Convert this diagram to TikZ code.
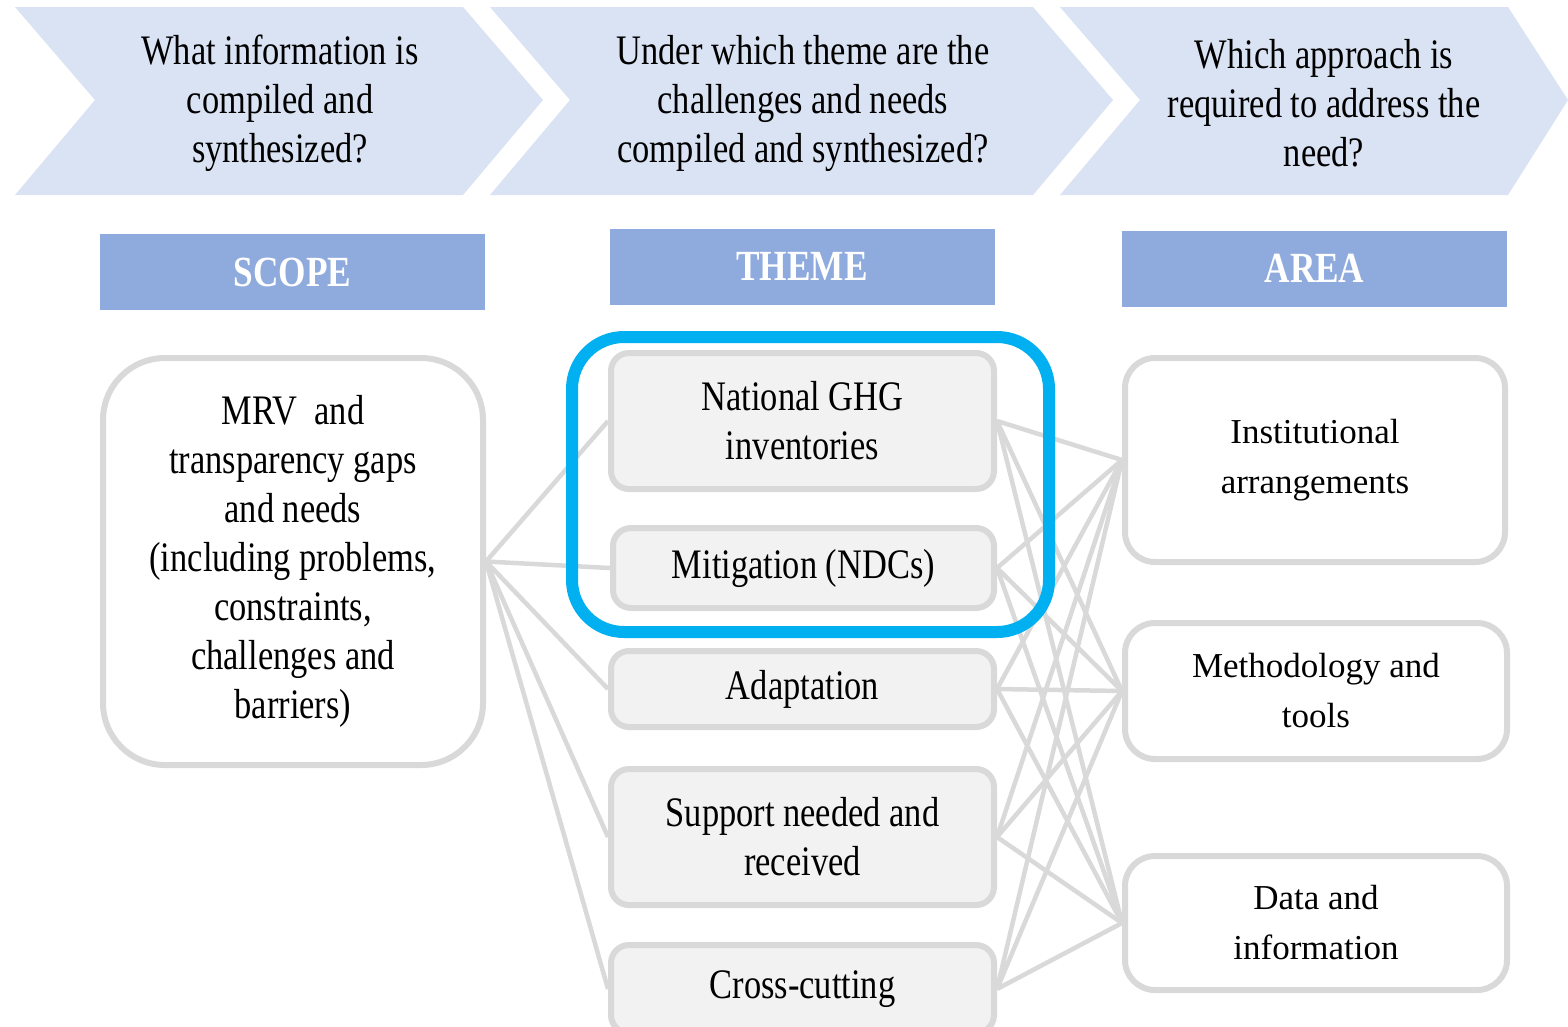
\documentclass[tikz,border=0pt]{standalone}
\usepackage{fontspec}
\setmainfont{Liberation Serif}
\newfontfamily\condfont[FakeStretch=0.82]{Liberation Serif}
\definecolor{chevfill}{HTML}{DAE3F3}
\definecolor{hdrfill}{HTML}{8FAADC}
\definecolor{boxgray}{HTML}{D9D9D9}
\definecolor{themefill}{HTML}{F2F2F2}
\definecolor{hlblue}{HTML}{00B0F0}
\begin{document}
\begin{tikzpicture}[x=1pt,y=-1pt,
  chev/.style={fill=chevfill,draw=none},
  qtext/.style={font=\condfont\fontsize{42}{49}\selectfont,align=center,text=black,inner sep=0pt},
  hdr/.style={fill=hdrfill,draw=none,minimum width=385pt,minimum height=76pt,inner sep=0pt,
    font=\condfont\bfseries\fontsize{43}{49}\selectfont,text=white},
  scopebox/.style={draw=boxgray,line width=6pt,fill=white,rounded corners=62pt,
    minimum width=380pt,minimum height=407pt,inner sep=0pt,align=center,
    font=\condfont\fontsize{42}{49}\selectfont},
  themebox/.style={draw=boxgray,line width=6pt,fill=themefill,rounded corners=18pt,
    minimum width=383pt,inner sep=0pt,align=center,
    font=\condfont\fontsize{42}{49}\selectfont},
  areabox/.style={draw=boxgray,line width=6pt,fill=white,rounded corners=30pt,
    minimum width=382pt,inner sep=0pt,align=center,
    font=\fontsize{35}{50}\selectfont},
  link/.style={draw=boxgray,line width=4.5pt},
  hlbox/.style={draw=hlblue,line width=12pt,rounded corners=52pt,fill=none,
    minimum width=477pt,minimum height=295pt,inner sep=0pt}
]
\clip (0,0) rectangle (1568,1026);
\fill[white] (0,0) rectangle (1568,1026);

% chevrons
\fill[chev] (15,7) -- (463,7) -- (543,100) -- (463,195) -- (15,195) -- (95,100) -- cycle;
\fill[chev] (490,7) -- (1033,7) -- (1113,100) -- (1033,195) -- (490,195) -- (570,100) -- cycle;
\fill[chev] (1060,7) -- (1508,7) -- (1568,100) -- (1508,195) -- (1060,195) -- (1140,100) -- cycle;
\node[qtext] (q1) at (280,103) {What information is\\compiled and\\synthesized?};
\node[qtext] (q2) at (803,103) {Under which theme are the\\challenges and needs\\compiled and synthesized?};
\node[qtext] (q3) at (1324,103) {Which approach is\\required to address the\\need?};

% headers
\node[hdr] (hscope) at (292.5,272) {SCOPE};
\node[hdr] (htheme) at (802,266.5) {THEME};
\node[hdr] (harea) at (1314.5,268.5) {AREA};

% scope
\node[scopebox] (scope) at (293,561.5) {MRV\ \ and\\transparency gaps\\and needs\\(including problems,\\constraints,\\challenges and\\barriers)};

% themes
\node[themebox,minimum height=136pt] (nghg) at (802.5,421) {National GHG\\inventories};
\node[themebox,minimum height=80pt,minimum width=381pt] (mitig) at (803.5,568) {Mitigation (NDCs)};
\node[themebox,minimum height=76pt] (adapt) at (802.5,689) {Adaptation};
\node[themebox,minimum height=136pt] (supp) at (802.5,837) {Support needed and\\received};
\node[themebox,minimum height=88pt] (cross) at (802.5,989) {Cross-cutting};

% areas
\node[areabox,minimum height=204pt,minimum width=380pt] (inst) at (1315,460) {Institutional\\arrangements};
\node[areabox,minimum height=136pt] (meth) at (1316,691) {Methodology and\\tools};
\node[areabox,minimum height=134pt] (data) at (1316,923) {Data and\\information};

% links
\foreach \t in {nghg,mitig,adapt,supp,cross}{
  \draw[link] (scope.east) -- (\t.west);
  \foreach \a in {inst,meth,data}{
    \draw[link] (\t.east) -- (\a.west);
  }
}

% highlight
\node[hlbox] (hl) at (810.5,484.5) {};
\end{tikzpicture}
\end{document}
